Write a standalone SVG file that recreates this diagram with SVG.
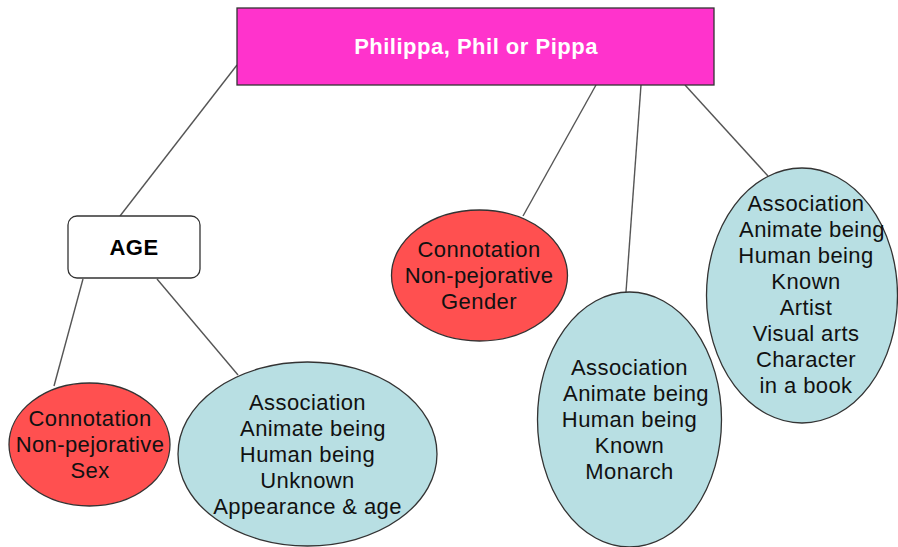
<svg xmlns="http://www.w3.org/2000/svg" width="898" height="547" viewBox="0 0 898 547">
  <style>
    .link { stroke: #555; stroke-width: 1.4; fill: none; }
    .title { fill: #ff33cc; stroke: #333; stroke-width: 1.3; }
    .box { fill: #fff; stroke: #333; stroke-width: 1.3; }
    .con { fill: #ff5050; stroke: #333; stroke-width: 1.3; }
    .assoc { fill: #b8dfe3; stroke: #333; stroke-width: 1.3; }
    text { font-family: "Liberation Sans", Arial, sans-serif; text-anchor: middle; }
    .bold { font-weight: bold; font-size: 22px; letter-spacing: 0.5px; }
    .label { font-size: 22px; letter-spacing: 0.4px; fill: #111; }
  </style>

  <g id="connectors">
    <line class="link" x1="237" y1="65" x2="120" y2="216"/>
    <line class="link" x1="83" y1="279" x2="54" y2="386"/>
    <line class="link" x1="157" y1="279" x2="238" y2="375"/>
    <line class="link" x1="596" y1="85" x2="523" y2="216"/>
    <line class="link" x1="641" y1="85" x2="626" y2="292"/>
    <line class="link" x1="685" y1="85" x2="768" y2="176"/>
  </g>

  <g id="name">
    <rect class="title" x="237" y="8" width="477" height="77"/>
    <text class="bold" x="476" y="54" fill="#fff">Philippa, Phil or Pippa</text>
  </g>

  <g id="age">
    <rect class="box" x="68" y="216" width="132" height="62" rx="9"/>
    <text class="bold" x="134" y="255" fill="#000">AGE</text>
  </g>

  <g id="connotation-sex">
    <ellipse class="con" cx="89.5" cy="444.5" rx="80.5" ry="61.5"/>
    <text class="label" x="90" y="426">Connotation</text>
    <text class="label" x="90" y="452">Non-pejorative</text>
    <text class="label" x="90" y="478">Sex</text>
  </g>

  <g id="association-unknown">
    <ellipse class="assoc" cx="307.5" cy="454" rx="129.5" ry="92"/>
    <text class="label" x="307.5" y="410">Association</text>
    <text class="label" x="313" y="436">Animate being</text>
    <text class="label" x="307.5" y="462">Human being</text>
    <text class="label" x="307.5" y="488">Unknown</text>
    <text class="label" x="307.5" y="514">Appearance &amp; age</text>
  </g>

  <g id="connotation-gender">
    <ellipse class="con" cx="479.5" cy="275.5" rx="88" ry="65.5"/>
    <text class="label" x="479" y="257">Connotation</text>
    <text class="label" x="479" y="283">Non-pejorative</text>
    <text class="label" x="479" y="309">Gender</text>
  </g>

  <g id="association-monarch">
    <ellipse class="assoc" cx="629.5" cy="419.5" rx="92" ry="127.5"/>
    <text class="label" x="629.5" y="375">Association</text>
    <text class="label" x="636" y="401">Animate being</text>
    <text class="label" x="629.5" y="427">Human being</text>
    <text class="label" x="629.5" y="453">Known</text>
    <text class="label" x="629.5" y="479">Monarch</text>
  </g>

  <g id="association-artist">
    <ellipse class="assoc" cx="802" cy="295.5" rx="95.5" ry="127.5"/>
    <text class="label" x="806" y="211">Association</text>
    <text class="label" x="812" y="237">Animate being</text>
    <text class="label" x="806" y="263">Human being</text>
    <text class="label" x="806" y="289">Known</text>
    <text class="label" x="806" y="315">Artist</text>
    <text class="label" x="806" y="341">Visual arts</text>
    <text class="label" x="806" y="367">Character</text>
    <text class="label" x="806" y="393">in a book</text>
  </g>
</svg>
